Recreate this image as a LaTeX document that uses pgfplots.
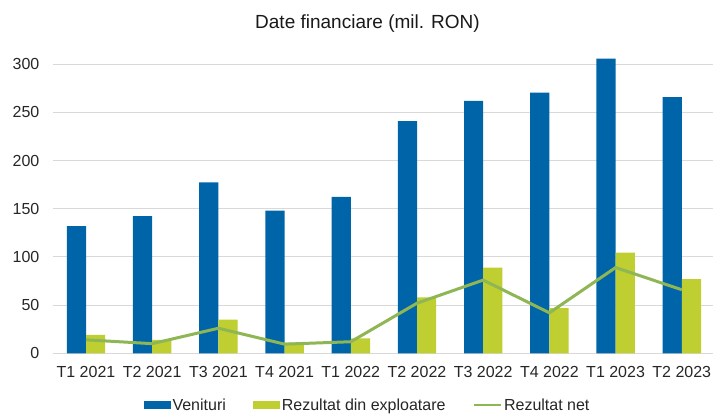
\documentclass[border=0pt]{standalone}
\usepackage{fontspec}
\setmainfont{Liberation Sans}
\usepackage{pgfplots}
\pgfplotsset{compat=1.18}
\definecolor{cblue}{RGB}{0,100,168}
\definecolor{cgreen}{RGB}{191,206,49}
\definecolor{cline}{RGB}{143,182,84}
\definecolor{cgrid}{RGB}{217,217,217}
\begin{document}
\begin{tikzpicture}
\path[use as bounding box] (-52.9bp,-60.7bp) rectangle (660.1bp,353.3bp);
\begin{axis}[
  at={(0,0)}, anchor=south west,
  scale only axis, width=662bp, height=308.27bp,
  xmin=-0.5, xmax=9.5, ymin=0, ymax=320,
  xtick={0,...,9},
  xticklabels={T1 2021,T2 2021,T3 2021,T4 2021,T1 2022,T2 2022,T3 2022,T4 2022,T1 2023,T2 2023},
  ytick={0,50,...,300},
  ymajorgrids, grid style={cgrid, line width=1bp},
  axis x line*=bottom, axis y line*=left,
  x axis line style={cgrid, line width=1bp, -},
  y axis line style={draw=none},
  major tick length=0pt, tick style={draw=none},
  tick label style={font=\fontsize{16bp}{19bp}\selectfont, text=black!85},
  /pgf/number format/assume math mode=true,
  yticklabel style={anchor=east, inner sep=0pt, xshift=-13.4bp},
  xticklabel style={anchor=base, inner sep=0pt, yshift=-24.4bp},
  title={Date financiare (mil. RON)},
  title style={font=\fontsize{19bp}{23bp}\selectfont, text=black!90, at={(axis description cs:0.4752,1)}, anchor=center, yshift=15bp, inner sep=0pt},
  legend columns=3,
  legend cell align=left,
  legend style={at={(axis description cs:0.4752,-0.1677)}, anchor=center, draw=none,
    font=\fontsize{16bp}{19bp}\selectfont, text=black!85,
    nodes={inner sep=1.5bp},
    /tikz/every even column/.append style={column sep=26bp}},
]
\addplot[ybar, bar width=19.2bp, bar shift=-9.6bp, fill=cblue, draw=none,
  legend image code/.code={\fill[cblue] (0bp,-4bp) rectangle (27bp,4bp);}]
  coordinates {(0,132) (1,142.5) (2,177.5) (3,148) (4,162.5) (5,241) (6,262) (7,270.5) (8,306) (9,266)};
\addlegendentry{Venituri}
\addplot[ybar, bar width=19.2bp, bar shift=9.6bp, fill=cgreen, draw=none,
  legend image code/.code={\fill[cgreen] (0bp,-4bp) rectangle (27bp,4bp);}]
  coordinates {(0,19) (1,14) (2,35) (3,11) (4,15.5) (5,58) (6,89) (7,47) (8,104.5) (9,77)};
\addlegendentry{Rezultat din exploatare}
\addplot[cline, line width=3bp, mark=none, sharp plot,
  legend image code/.code={\draw[cline, line width=2.5bp] (0bp,0bp) -- (27bp,0bp);}]
  coordinates {(0,14) (1,10) (2,26) (3,9.5) (4,12) (5,52) (6,76) (7,42) (8,89) (9,66)};
\addlegendentry{Rezultat net}
\end{axis}
\end{tikzpicture}
\end{document}
